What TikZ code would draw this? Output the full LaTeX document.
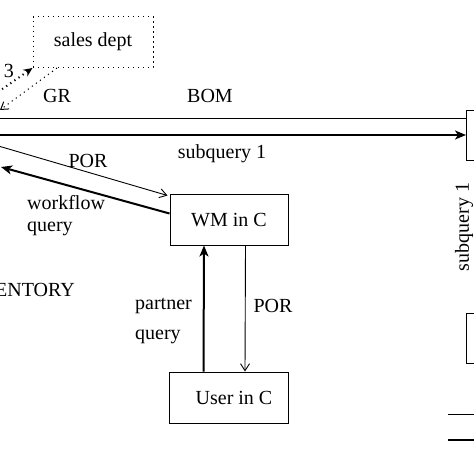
\documentclass[tikz,border=0pt]{standalone}
\usepackage{fontspec}
\setmainfont{Liberation Serif}
\usetikzlibrary{arrows.meta}
\tikzset{
  box/.style={draw, line width=1pt, inner sep=0pt},
  thinarrow/.style={line width=0.9pt, -{Straight Barb[length=7pt,width=9pt]}},
  thickarrow/.style={line width=2pt, -{Stealth[length=11pt,width=9pt,inset=3pt]}},
  dots/.style={line width=1pt, dash pattern=on 1.2pt off 3.8pt},
  lbl/.style={inner sep=0pt, font=\fontsize{20}{24}\selectfont}
}
\begin{document}
\begin{tikzpicture}[x=1pt, y=-1pt]
            \useasboundingbox (0, 0) rectangle (474, 474);
            \clip (0, 0) rectangle (474, 474);
            % boxes
            \node[box, dots, minimum width=120pt, minimum height=51pt, lbl] (sales) at (93, 42) {sales dept};
            \node[box, minimum width=118pt, minimum height=51pt] (wm) at (229, 219.5) {};
            \node[lbl] at (229, 220) {WM in C};
            \node[box, minimum width=119pt, minimum height=51pt] (user) at (228.5, 397.5) {};
            \node[lbl] at (234, 398) {User in C};
            \node[box, minimum width=60pt, minimum height=50pt, anchor=north west] (sup) at (466, 110) {};
            \node[box, minimum width=60pt, minimum height=50pt, anchor=north west] (sup2) at (466, 313) {};
            \node[lbl, anchor=east] (inv) at (75, 290) {INVENTORY};
            % free ends on the left
            \coordinate (l1) at (-2, 92);
            \coordinate (l2) at (0, 110);
            \coordinate (l3) at (-5, 118);
            \coordinate (l4) at (-5, 135);
            \coordinate (l5) at (-5, 145);
            \coordinate (l6) at (1, 167);
            % connectors
            \draw[dots, line width=2pt, -{Stealth[length=9pt,width=8pt]}] (l1) -- (sales.south west);
            \node[lbl] at (9, 71) {3};
            \draw[dots, -{Straight Barb[length=7pt,width=9pt]}] ([xshift=-36pt]sales.south) -- (l2);
            \draw[line width=0.9pt] (sup.west |- l3) -- (l3);
            \draw[thickarrow] (l4) -- (sup.west |- l4);
            \draw[thinarrow] (l5) -- ([xshift=-2pt, yshift=-2pt]wm.north west);
            \draw[thickarrow] ([yshift=-20pt]wm.north west) -- (l6);
            \draw[thickarrow] ([xshift=-25pt]user.north) -- ([xshift=-25pt]wm.south);
            \draw[thinarrow] ([xshift=16.5pt]wm.south) -- ([xshift=16.5pt]user.north);
            % labels
            \node[lbl] at (57, 96) {GR};
            \node[lbl] at (210, 96) {BOM};
            \node[lbl] at (222, 154) {subquery 1};
            \node[lbl] at (88, 161) {POR};
            \node[lbl, anchor=west] at (27, 203) {workflow};
            \node[lbl, anchor=west] at (27, 229) {query};
            \node[lbl, anchor=west] at (135, 306) {partner};
            \node[lbl, anchor=west] at (135, 337) {query};
            \node[lbl] at (273, 306) {POR};
            \node[lbl, rotate=90] at (464, 227) {subquery 1};
            % key lines
            \draw[line width=1pt] (448, 414) -- (480, 414);
            \draw[line width=2pt] (448, 440) -- (480, 440);
        \end{tikzpicture}
\end{document}
